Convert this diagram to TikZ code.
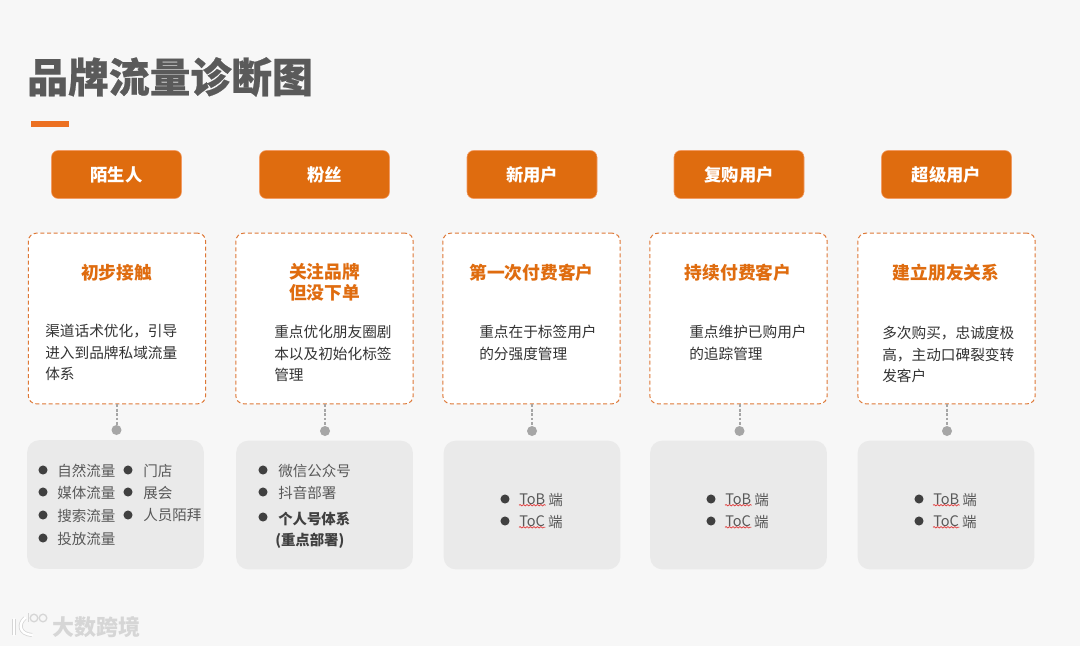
\documentclass[tikz,border=0pt]{standalone}
\usepackage{fontspec}
\setmainfont{Noto Sans CJK SC}
\newfontfamily\titlefont[BoldFeatures={FakeBold=0.5}]{Noto Sans CJK SC}
\usepackage{xcolor}
\usepackage{tikz}
\usetikzlibrary{arrows.meta, positioning, calc, decorations.pathmorphing}
\definecolor{pagegray}{RGB}{247, 247, 247}
\definecolor{brandorange}{RGB}{223, 108, 15}
\definecolor{barorange}{RGB}{236, 112, 33}
\definecolor{dashorange}{RGB}{222, 120, 55}
\definecolor{panelgray}{RGB}{234, 234, 234}
\definecolor{titlegray}{RGB}{90, 90, 90}
\definecolor{itemgray}{RGB}{89, 89, 89}
\definecolor{bodygray}{RGB}{51, 51, 51}
\definecolor{bulletgray}{RGB}{64, 64, 64}
\definecolor{dotgray}{RGB}{166, 166, 166}
\definecolor{wavyred}{RGB}{225, 70, 70}
\definecolor{markgray}{RGB}{214, 214, 214}

\begin{document}
\begin{tikzpicture}[
  x=0.75pt, y=-0.75pt,
  headbox/.style={fill=brandorange, draw=barorange!70, rounded corners=5pt, minimum width=97.5pt, minimum height=36pt, inner sep=0pt, text=white, font=\fontsize{13}{15}\selectfont\bfseries},
  cardbox/.style={draw=dashorange, fill=white, line width=0.75pt, dash pattern=on 3pt off 2pt, rounded corners=6pt, minimum width=133pt, minimum height=128pt, inner sep=0pt},
  panelbox/.style={fill=panelgray, rounded corners=9pt, minimum width=132.5pt, minimum height=96.5pt, inner sep=0pt},
  cardtitle/.style={text=brandorange, align=center, inner sep=0pt, font=\fontsize{13.3}{16}\selectfont\bfseries},
  cardtext/.style={text=bodygray, align=left, anchor=west, inner sep=0pt, font=\fontsize{11}{16}\selectfont},
  itemtext/.style={text=itemgray, anchor=west, inner sep=0pt, font=\fontsize{10.9}{13}\selectfont},
  itembold/.style={itemtext, text=bulletgray, font=\fontsize{10.8}{13}\selectfont\bfseries},
  bulletdot/.style={circle, fill=bulletgray, minimum size=6.8pt, inner sep=0pt},
  enddot/.style={circle, fill=dotgray, minimum size=7.5pt, inner sep=0pt},
  linkline/.style={draw=dotgray, line width=1.5pt, dash pattern=on 2.2pt off 1.1pt},
  wavyline/.style={draw=wavyred, line width=0.6pt, decorate, decoration={snake, amplitude=0.5pt, segment length=2.6pt}},
  logoline/.style={draw=white, line cap=round, line width=1.8pt, preaction={draw=markgray, line width=3pt}},
  logoring/.style={draw=markgray, line width=1pt}
]
\useasboundingbox (0, 0) rectangle (1080, 646);
\fill[pagegray] (0, 0) rectangle (1080, 646);

% Title
\node[text=titlegray, anchor=west, inner sep=0pt, font=\fontsize{30.6}{36}\titlefont\bfseries] (pageTitle) at (27, 77) {品牌流量诊断图};
\node[fill=barorange, minimum width=28.5pt, minimum height=5pt, inner sep=0pt] (titleBar) at (50, 124) {};

% Head row
\node[headbox] (head1) at (116.5, 174.5) {陌生人};
\node[headbox] (head2) at (324.5, 174.5) {粉丝};
\node[headbox] (head3) at (532, 174.5) {新用户};
\node[headbox] (head4) at (739, 174.5) {复购用户};
\node[headbox] (head5) at (946.5, 174.5) {超级用户};

% Dashed cards
\node[cardbox] (card1) at (117, 318.5) {};
\node[cardbox] (card2) at (324.5, 318.5) {};
\node[cardbox] (card3) at (531.5, 318.5) {};
\node[cardbox] (card4) at (738.5, 318.5) {};
\node[cardbox] (card5) at (946.5, 318.5) {};

\node[cardtitle] (title1) at (116.5, 273) {初步接触};
\node[cardtitle] (title2) at (324.5, 282.5) {关注品牌\\但没下单};
\node[cardtitle] (title3) at (531.5, 272.5) {第一次付费客户};
\node[cardtitle] (title4) at (738, 272.5) {持续付费客户};
\node[cardtitle] (title5) at (946, 273) {建立朋友关系};

\node[cardtext] (text1) at (45, 352.5) {渠道话术优化，引导\\进入到品牌私域流量\\体系};
\node[cardtext] (text2) at (274, 353.5) {重点优化朋友圈剧\\本以及初始化标签\\管理};
\node[cardtext] (text3) at (479, 343) {重点在于标签用户\\的分强度管理};
\node[cardtext] (text4) at (689, 343) {重点维护已购用户\\的追踪管理};
\node[cardtext] (text5) at (882, 354.5) {多次购买，忠诚度极\\高，主动口碑裂变转\\发客户};

% Gray panels
\node[panelbox] (panel1) at (115.5, 504.5) {};
\node[panelbox] (panel2) at (324.5, 505) {};
\node[panelbox] (panel3) at (532, 505) {};
\node[panelbox] (panel4) at (738.5, 505) {};
\node[panelbox] (panel5) at (946, 505) {};

% Links from card to dot
\node[enddot] (dot1) at (116.5, 430) {};
\node[enddot] (dot2) at (325, 431) {};
\node[enddot] (dot3) at (532, 431) {};
\node[enddot] (dot4) at (739.5, 431) {};
\node[enddot] (dot5) at (947, 431) {};

\draw[linkline] (card1.south -| dot1) -- (dot1);
\draw[linkline] (card2.south -| dot2) -- (dot2);
\draw[linkline] (card3.south -| dot3) -- (dot3);
\draw[linkline] (card4.south -| dot4) -- (dot4);
\draw[linkline] (card5.south -| dot5) -- (dot5);

% Panel 1 list
\node[bulletdot] (b11) at (43, 470) {}; \node[itemtext] (i11) at (57, 470.5) {自然流量};
\node[bulletdot] (b12) at (43, 492) {}; \node[itemtext] (i12) at (57, 492.5) {媒体流量};
\node[bulletdot] (b13) at (43, 515) {}; \node[itemtext] (i13) at (57, 515.5) {搜索流量};
\node[bulletdot] (b14) at (43, 538) {}; \node[itemtext] (i14) at (57, 538.5) {投放流量};
\node[bulletdot] (b15) at (128, 470) {}; \node[itemtext] (i15) at (143, 470.5) {门店};
\node[bulletdot] (b16) at (128, 492) {}; \node[itemtext] (i16) at (143, 492.5) {展会};
\node[bulletdot] (b17) at (128, 515) {}; \node[itemtext] (i17) at (143, 515.5) {人员陌拜};

% Panel 2 list
\node[bulletdot] (b21) at (263, 470) {}; \node[itemtext] (i21) at (278, 470.5) {微信公众号};
\node[bulletdot] (b22) at (263, 492) {}; \node[itemtext] (i22) at (278, 492.5) {抖音部署};
\node[bulletdot] (b23) at (263, 517) {}; \node[itembold] (i23) at (278, 518.5) {个人号体系};
\node[itembold] (i24) at (275, 541) {(重点部署)};

% Panels 3 to 5 lists
\node[bulletdot] (b31) at (505, 499) {}; \node[itemtext] (i31) at (519, 499.5) {ToB}; \node[itemtext, right=2pt of i31] (e31) {端};
\node[bulletdot] (b32) at (505, 521) {}; \node[itemtext] (i32) at (519, 521.5) {ToC}; \node[itemtext, right=2pt of i32] (e32) {端};
\node[bulletdot] (b41) at (711, 499) {}; \node[itemtext] (i41) at (725, 499.5) {ToB}; \node[itemtext, right=2pt of i41] (e41) {端};
\node[bulletdot] (b42) at (711, 521) {}; \node[itemtext] (i42) at (725, 521.5) {ToC}; \node[itemtext, right=2pt of i42] (e42) {端};
\node[bulletdot] (b51) at (919, 499) {}; \node[itemtext] (i51) at (933, 499.5) {ToB}; \node[itemtext, right=2pt of i51] (e51) {端};
\node[bulletdot] (b52) at (919, 521) {}; \node[itemtext] (i52) at (933, 521.5) {ToC}; \node[itemtext, right=2pt of i52] (e52) {端};

\draw[wavyline] (i31.south west) -- (i31.south east);
\draw[wavyline] (i32.south west) -- (i32.south east);
\draw[wavyline] (i41.south west) -- (i41.south east);
\draw[wavyline] (i42.south west) -- (i42.south east);
\draw[wavyline] (i51.south west) -- (i51.south east);
\draw[wavyline] (i52.south west) -- (i52.south east);

% Watermark
\node[text=markgray, anchor=west, inner sep=0pt, font=\fontsize{16.5}{20}\selectfont\bfseries] (markText) at (52, 627) {大数跨境};
\draw[logoline] (14, 619) -- (14, 635);
\draw[logoline] (25, 618) .. controls (18, 624) and (19, 634) .. (32, 635);
\draw[logoring] (28.5, 622) -- (28.5, 613);
\draw[logoring] (34, 618) circle (3.8);
\draw[logoring] (43, 618) circle (3.8);

\end{tikzpicture}
\end{document}
